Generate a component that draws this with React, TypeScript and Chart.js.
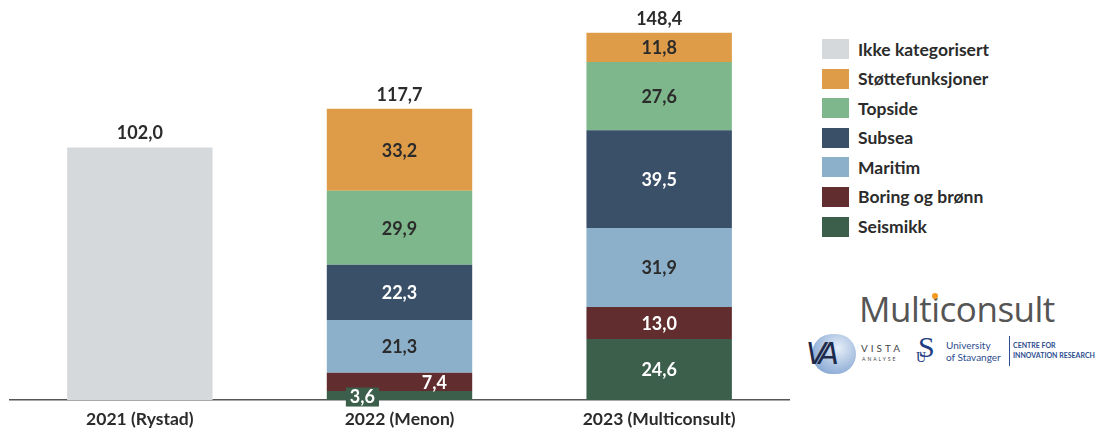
import React, { useEffect, useRef } from "react";
import { Chart, registerables } from "chart.js";

Chart.register(...registerables);

const categories = ["2021 (Rystad)", "2022 (Menon)", "2023 (Multiconsult)"];
const seriesNames = [
  "Seismikk",
  "Boring og brønn",
  "Maritim",
  "Subsea",
  "Topside",
  "Støttefunksjoner",
  "Ikke kategorisert",
];
const seismikk = [0, 3.6, 24.6];
const boring = [0, 7.4, 13.0];
const maritim = [0, 21.3, 31.9];
const subsea = [0, 22.3, 39.5];
const topside = [0, 29.9, 27.6];
const stotte = [0, 33.2, 11.8];
const ikke = [102.0, 0, 0];
const totals = [102.0, 117.7, 148.4];
const seriesValues = [seismikk, boring, maritim, subsea, topside, stotte, ikke];
const seriesColors = ["#3C5F4C", "#622D2F", "#8CAFCA", "#3A5068", "#7EB78B", "#DE9C49", "#D6D9DC"];
const darkLabel = [false, false, true, false, true, true, true];
const legendOrder = [6, 5, 4, 3, 2, 1, 0];

const FONT = "Lato, 'Open Sans', sans-serif";
const fmt = (v: number) => v.toFixed(1).replace(".", ",");

const labelPlugin = {
  id: "valueLabels",
  afterDatasetsDraw(chart: any) {
    const ctx = chart.ctx;
    ctx.save();
    ctx.font = `bold 18px ${FONT}`;
    ctx.textAlign = "center";
    ctx.textBaseline = "middle";
    const nCats = categories.length;
    for (let c = 0; c < nCats; c++) {
      let prevSmall = false;
      chart.data.datasets.forEach((ds: any, di: number) => {
        const v = ds.data[c];
        if (!v) return;
        const el = chart.getDatasetMeta(di).data[c];
        const h = Math.abs(el.base - el.y);
        const w = el.width;
        let x = el.x;
        const y = (el.y + el.base) / 2;
        const txt = fmt(v);
        if (h < 12) {
          x = el.x - w * 0.255;
          const tw = ctx.measureText(txt).width + 8;
          ctx.fillStyle = seriesColors[di];
          ctx.fillRect(x - tw / 2, y - 8, tw, 19);
          ctx.fillStyle = "#ffffff";
          ctx.fillText(txt, x, y + 2);
          prevSmall = true;
          return;
        }
        if (prevSmall && h < 22) {
          x = el.x + w * 0.24;
        }
        prevSmall = false;
        ctx.fillStyle = darkLabel[di] ? "#2b2b2b" : "#ffffff";
        if (di === 6) return;
        ctx.fillText(txt, x, y + 1);
      });
      const topMeta = chart.getDatasetMeta(0).data[c];
      const yTop = chart.scales.y.getPixelForValue(totals[c]);
      ctx.fillStyle = "#2b2b2b";
      ctx.fillText(fmt(totals[c]), topMeta.x, yTop - 14);
    }
    ctx.restore();
  },
};

export default function App() {
  const ref = useRef<HTMLCanvasElement | null>(null);
  useEffect(() => {
    if (!ref.current) return;
    const chart = new Chart(ref.current, {
      type: "bar",
      data: {
        labels: categories,
        datasets: seriesNames.map((name, i) => ({
          label: name,
          data: seriesValues[i],
          backgroundColor: seriesColors[i],
          borderWidth: 0,
          barPercentage: 0.56,
          categoryPercentage: 1,
        })),
      },
      options: {
        animation: false,
        responsive: true,
        maintainAspectRatio: false,
        layout: { padding: { left: 10, right: 11, top: 4, bottom: 2 } },
        plugins: { legend: { display: false }, tooltip: { enabled: false } },
        scales: {
          x: {
            stacked: true,
            grid: { display: false, drawTicks: false },
            border: { display: true, color: "#555555", width: 1.5 },
            ticks: { color: "#2b2b2b", font: { family: FONT, size: 17.5, weight: "bold" }, padding: 9 },
          },
          y: { stacked: true, display: false, min: 0, max: 160 },
        },
      },
      plugins: [labelPlugin],
    });
    return () => chart.destroy();
  }, []);

  return (
    <div style={{ position: "fixed", left: 0, top: 0, width: 1101, height: 430, background: "#fff", fontFamily: FONT, overflow: "hidden" }}>
      <div style={{ position: "absolute", left: 0, top: 0, width: 800, height: 441 }}>
        <canvas ref={ref} />
      </div>
      <div style={{ position: "absolute", left: 822, top: 39 }}>
        {legendOrder.map((i) => (
          <div key={i} style={{ display: "flex", alignItems: "center", height: 20, marginBottom: 9.6 }}>
            <div style={{ width: 27, height: 20, background: seriesColors[i] }} />
            <div style={{ marginLeft: 9, fontWeight: 700, fontSize: 17.5, color: "#2b2b2b", whiteSpace: "nowrap" }}>
              {seriesNames[i]}
            </div>
          </div>
        ))}
      </div>
      <div style={{ position: "absolute", left: 859, top: 287, fontSize: 35, color: "#555", fontFamily: "'Open Sans', sans-serif", fontWeight: 500, letterSpacing: -0.5, lineHeight: "44px" }}>
        Multiconsult
      </div>
      <div style={{ position: "absolute", left: 932, top: 293, width: 6, height: 6, borderRadius: 3, background: "#F39A1E" }} />
      <div style={{ position: "absolute", left: 812, top: 334, width: 44, height: 40, borderRadius: 22, background: "radial-gradient(circle at 60% 35%, #e6eef8, #6d95c9)" }} />
      <div style={{ position: "absolute", left: 806, top: 336, fontSize: 30, color: "#1e2a4a", fontStyle: "italic", fontFamily: "'DejaVu Sans', sans-serif", letterSpacing: -6 }}>VA</div>
      <div style={{ position: "absolute", left: 861, top: 342, fontSize: 10, letterSpacing: 3, color: "#444" }}>VISTA</div>
      <div style={{ position: "absolute", left: 862, top: 356, fontSize: 5, letterSpacing: 2, color: "#444" }}>ANALYSE</div>
      <div style={{ position: "absolute", left: 918, top: 330, fontSize: 30, color: "#1f3e84", fontFamily: "'Liberation Serif', serif" }}>S</div>
      <div style={{ position: "absolute", left: 916, top: 350, fontSize: 14, color: "#1f3e84", fontFamily: "'Liberation Serif', serif" }}>U</div>
      <div style={{ position: "absolute", left: 946, top: 339, fontSize: 10, lineHeight: "12px", color: "#2d4d8f" }}>
        University<br />of Stavanger
      </div>
      <div style={{ position: "absolute", left: 1009, top: 336, width: 1, height: 30, background: "#2d4d8f" }} />
      <div style={{ position: "absolute", left: 1013, top: 340, fontSize: 7, lineHeight: "10px", fontWeight: 700, color: "#2d4d8f", whiteSpace: "nowrap" }}>
        CENTRE FOR<br />INNOVATION RESEARCH
      </div>
    </div>
  );
}
